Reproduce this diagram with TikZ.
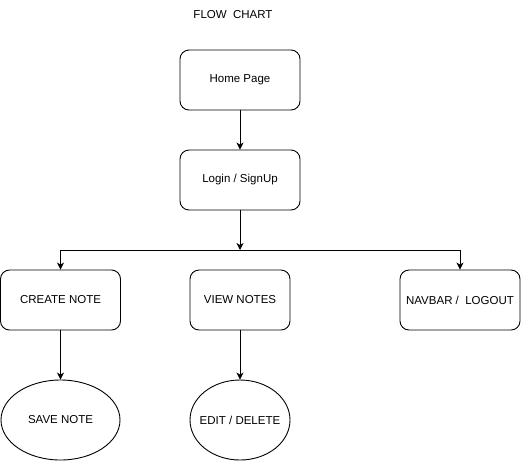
\documentclass[tikz,border=0pt]{standalone}
\usepackage{fontspec}
\setmainfont{Liberation Sans}
\usetikzlibrary{arrows.meta,shapes.geometric}

\begin{document}
\begin{tikzpicture}[x=1pt,y=-1pt,font=\fontsize{11.5}{13}\selectfont,
 box/.style={draw,line width=0.9pt,rounded corners=9pt,align=center,minimum width=120pt,minimum height=60pt,inner sep=2pt},
 oval/.style={draw,line width=0.9pt,ellipse,align=center,minimum width=120pt,minimum height=80pt,inner sep=1pt},
 arr/.style={-{Stealth[length=7pt,width=7pt,inset=2pt]},line width=0.9pt}]
\useasboundingbox (0,0) rectangle (521,461);
\node (title) at (233,15) {FLOW\ \ CHART};
\node[box] (home) at (240,80) {Home Page};
\node[box] (login) at (240,180) {Login / SignUp};
\node[box] (create) at (60.5,300) {CREATE NOTE};
\node[box,minimum width=100pt] (view) at (240,300) {VIEW NOTES};
\node[box] (navbar) at (460,300) {NAVBAR /\ \ LOGOUT};
\node[oval,minimum width=119pt] (save) at (60.5,420) {SAVE NOTE};
\node[oval,minimum width=100pt,inner xsep=-8pt] (edit) at (240,420) {EDIT / DELETE};
\coordinate (split) at (240,250);
\draw[arr] (home)--(login);
\draw[arr] (login)--(split);
\draw[arr] (split)-|(create);
\draw[arr] (split)-|(navbar);
\draw[arr] (create)--(save);
\draw[arr] (view)--(edit);
\end{tikzpicture}
\end{document}
